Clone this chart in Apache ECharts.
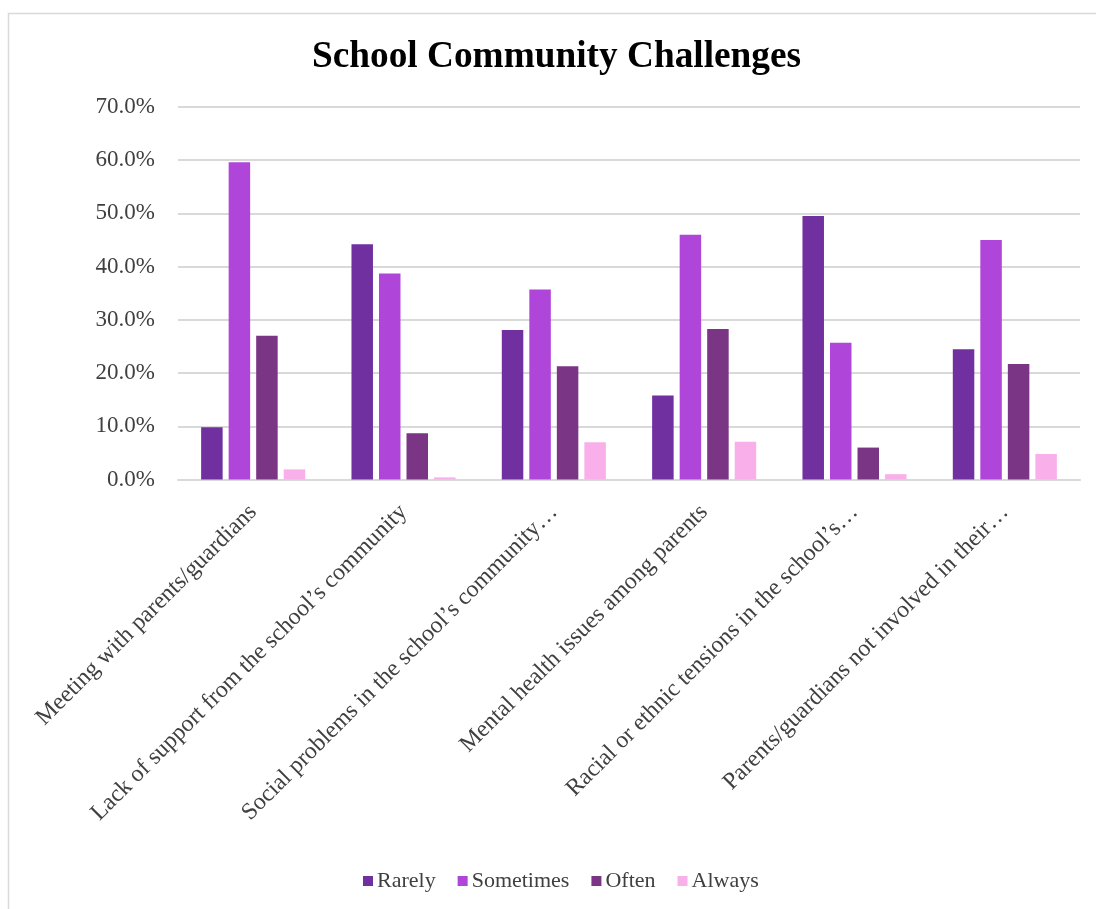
<!DOCTYPE html>
<html>
<head>
<meta charset="utf-8">
<script src="https://cdn.jsdelivr.net/npm/echarts@6/dist/echarts.min.js"></script>
<style>
  html, body { margin: 0; padding: 0; background: #fff; }
  #chart { width: 1096px; height: 909px; }
</style>
</head>
<body>
<div id="chart"></div>
<script>
// Challenge categories (long names are shortened with an ellipsis on the axis)
const categories = [
  'Meeting with parents/guardians',
  'Lack of support from the school\u2019s community',
  'Social problems in the school\u2019s community\u2026',
  'Mental health issues among parents',
  'Racial or ethnic tensions in the school\u2019s\u2026',
  'Parents/guardians not involved in their\u2026'
];

// Share of respondents (%) per frequency answer
const rarely    = [9.8, 44.2, 28.1, 15.8, 49.5, 24.5];
const sometimes = [59.6, 38.7, 35.7, 46.0, 25.7, 45.0];
const often     = [27.0, 8.7, 21.3, 28.3, 6.0, 21.7];
const always    = [1.9, 0.4, 7.0, 7.1, 1.0, 4.8];

const seriesNames = ['Rarely', 'Sometimes', 'Often', 'Always'];
const seriesData = [rarely, sometimes, often, always];
const colors = ['#7030A0', '#B046D9', '#7A3585', '#F9B0EA'];

const serif = '"Liberation Serif", "Times New Roman", serif';

const chart = echarts.init(document.getElementById('chart'));
chart.setOption({
  animation: false,
  backgroundColor: '#ffffff',
  color: colors,
  graphic: [{
    type: 'rect',
    left: 6, top: 11,
    shape: { width: 1200, height: 1000 },
    style: { fill: 'none', stroke: '#d9d9d9', lineWidth: 1.5 },
    silent: true
  }],
  title: {
    text: 'School Community Challenges',
    left: 307, top: 34,
    textStyle: { fontFamily: serif, fontSize: 37.3, fontWeight: 'bold', color: '#000000' }
  },
  legend: {
    data: seriesNames,
    top: 865,
    left: 358,
    itemWidth: 10, itemHeight: 10, itemGap: 22,
    icon: 'rect',
    textStyle: { fontFamily: serif, fontSize: 22, color: '#404040', padding: [0, 0, 0, -1] }
  },
  grid: { left: 178, right: 16, top: 107, bottom: 429.5, containLabel: false },
  xAxis: {
    type: 'category',
    data: categories,
    axisLine: { lineStyle: { color: '#d9d9d9', width: 2 } },
    axisTick: { show: false },
    axisLabel: {
      interval: 0, rotate: 45, margin: 29,
      fontFamily: serif, fontSize: 23.8, color: '#404040'
    }
  },
  yAxis: {
    type: 'value',
    min: 0, max: 70, interval: 10,
    axisLine: { show: false },
    axisTick: { show: false },
    splitLine: { lineStyle: { color: '#d9d9d9', width: 2 } },
    axisLabel: {
      margin: 23,
      fontFamily: serif, fontSize: 23, color: '#404040',
      formatter: v => v.toFixed(1) + '%'
    }
  },
  series: seriesNames.map((name, i) => ({
    name,
    type: 'bar',
    data: seriesData[i],
    barWidth: 21.5,
    barGap: '28%',
    itemStyle: { color: colors[i] }
  }))
});
</script>
</body>
</html>
